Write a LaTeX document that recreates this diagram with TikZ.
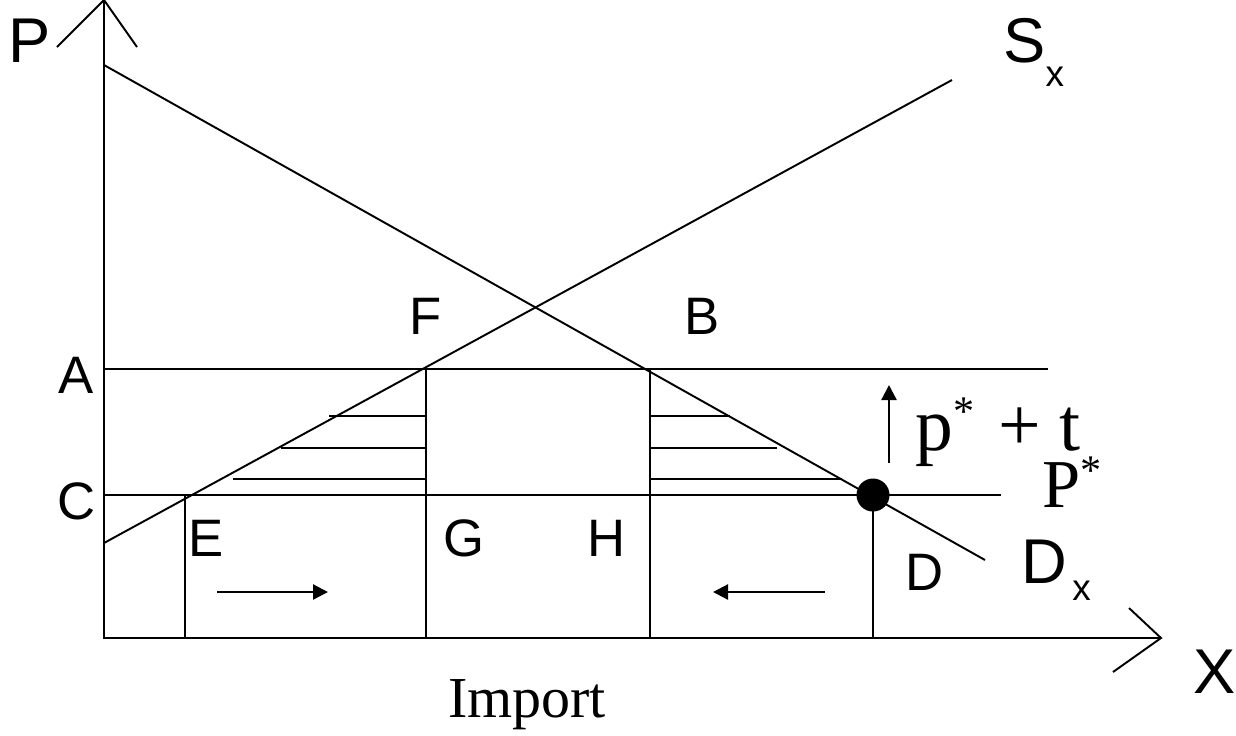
\documentclass[tikz,border=0pt]{standalone}
\usepackage{fontspec}
\newfontfamily\labelfont{Liberation Sans}
\newfontfamily\pricefont{Liberation Serif}
\usetikzlibrary{arrows.meta}
\newcommand{\subx}[1]{\raisebox{#1}{\fontsize{21}{21}\selectfont x}}
\newcommand{\starsup}[1]{\raisebox{#1}{\fontsize{24}{24}\selectfont *}}
\tikzset{
	curve/.style = {
		line width=1.1pt
	},
	hatch/.style = {
		line width=1.3pt
	},
	flow/.style = {
		line width=1.3pt,
		-{Triangle[length=0.3cm,width=0.3cm]}
	},
	label_s/.style = {
		inner sep=0pt,
		font=\labelfont\fontsize{30}{30}\selectfont
	},
	label_l/.style = {
		inner sep=0pt,
		font=\labelfont\fontsize{36}{36}\selectfont
	},
	label_p/.style = {
		inner sep=0pt,
		anchor=base west,
		font=\pricefont\fontsize{33}{33}\selectfont
	},
}
\begin{document}
\begin{tikzpicture}[x=0.02cm, y=-0.02cm]
\useasboundingbox (0,0) rectangle (1236,735);
% points
\coordinate (origin) at (104,638);
\coordinate (p_top) at (104,0);
\coordinate (x_end) at (1161,638);
\coordinate (d_top) at (104,65);
\coordinate (d_end) at (985,560);
\coordinate (s_bot) at (104,543);
\coordinate (s_top) at (952,80);
\coordinate (a_left) at (104,369);
\coordinate (a_right) at (1048,369);
\coordinate (c_left) at (104,495);
\coordinate (c_right) at (1001,495);
\coordinate (eq) at (873,495);
% axes
\draw [curve] (x_end) -- (origin) -- (p_top);
\draw [curve] (57,47) -- (p_top) -- (137,47);
\draw [curve] (1129,608) -- (x_end) -- (1113,672);
% demand and supply
\draw [curve] (d_top) -- (d_end);
\draw [curve] (s_bot) -- (s_top);
% price lines
\draw [curve] (a_left) -- (a_right);
\draw [curve] (c_left) -- (c_right);
% quantities
\foreach \q/\top in {185/495, 426/369, 650/369, 873/495}
	\draw [curve] (\q,\top) -- (\q,638);
% hatching
\foreach \y/\l/\r in {416/329/730, 448/281/777, 479/233/842} {
	\draw [hatch] (\l,\y) -- (426,\y);
	\draw [hatch] (650,\y) -- (\r,\y);
}
\fill (eq) circle (16.5);
% arrows
\draw [flow] (217,592) -- (328,592);
\draw [flow] (825,592) -- (713,592);
\draw [flow] (889,463) -- (889,385);
% labels
\node [label_l] (lbl_p) at (30,41) {P};
\node [label_l, anchor=base west] (lbl_s) at (1003,62) {S\subx{-0.48cm}};
\node [label_l, anchor=base west] (lbl_dx) at (1021,583) {D\kern3pt\subx{-0.34cm}};
\node [label_l] (lbl_x) at (1215,672) {X};
\node [label_s] (lbl_f) at (426,316) {F};
\node [label_s] (lbl_b) at (702,316) {B};
\node [label_s] (lbl_a) at (76,375) {A};
\node [label_s] (lbl_c) at (77,501) {C};
\node [label_s] (lbl_e) at (206,538) {E};
\node [label_s] (lbl_g) at (464,538) {G};
\node [label_s] (lbl_h) at (607,538) {H};
\node [label_s] (lbl_d) at (925,572) {D};
\node [label_p, anchor=base] (lbl_import) at (527,717) {Import};
\node [label_p, font=\pricefont\fontsize{43}{43}\selectfont] (lbl_tariff) at (915,450) {p\starsup{0.5cm}\kern3pt{} + t};
\node [label_p, font=\pricefont\fontsize{39}{39}\selectfont] (lbl_world) at (1042,507) {P\starsup{0.45cm}};
\end{tikzpicture}
\end{document}
